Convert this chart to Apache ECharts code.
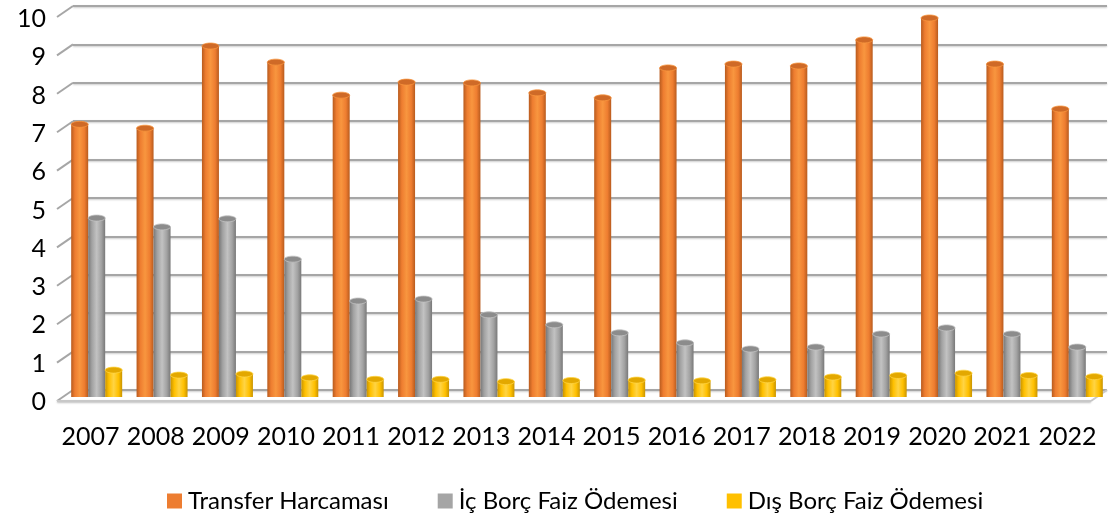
<!DOCTYPE html>
<html>
<head>
<meta charset="utf-8">
<script src="https://cdn.jsdelivr.net/npm/echarts@6/dist/echarts.min.js"></script>
<style>
html, body { margin: 0; padding: 0; background: #fff; }
#chart { width: 1113px; height: 513px; }
</style>
</head>
<body>
<div id="chart"></div>
<script>
// data
var years = ['2007', '2008', '2009', '2010', '2011', '2012', '2013', '2014', '2015', '2016', '2017', '2018', '2019', '2020', '2021', '2022'];
var transfer = [7.1, 7.0, 9.14, 8.72, 7.86, 8.2, 8.18, 7.92, 7.79, 8.57, 8.67, 8.62, 9.3, 9.87, 8.67, 7.5];
var icBorc = [4.66, 4.43, 4.64, 3.59, 2.5, 2.55, 2.14, 1.88, 1.67, 1.41, 1.25, 1.3, 1.64, 1.8, 1.64, 1.3];
var disBorc = [0.7, 0.57, 0.6, 0.5, 0.46, 0.46, 0.4, 0.43, 0.44, 0.42, 0.45, 0.52, 0.56, 0.62, 0.56, 0.53];
var yTicks = [0, 1, 2, 3, 4, 5, 6, 7, 8, 9, 10];
var seriesNames = ['Transfer Harcaması', 'İç Borç Faiz Ödemesi', 'Dış Borç Faiz Ödemesi'];

var chart = echarts.init(document.getElementById('chart'));

// cylinder-ish bar: gradient body + ellipse cap
function cylinder(slot, body, cap) {
  return function (params, api) {
    var cat = api.value(0);
    var v = api.value(1);
    var base = api.coord([cat, 0]);
    var top = api.coord([cat, v]);
    var band = api.size([1, 0])[0];
    var w = band * 0.26;
    var x = base[0] + (slot - 1) * w - w / 2;
    return {
      type: 'group',
      children: [
        {
          type: 'rect',
          shape: { x: x, y: top[1], width: w, height: base[1] - top[1] },
          style: {
            fill: new echarts.graphic.LinearGradient(0, 0, 1, 0, [
              { offset: 0, color: body[0] },
              { offset: 0.22, color: body[1] },
              { offset: 0.5, color: body[2] },
              { offset: 0.78, color: body[1] },
              { offset: 1, color: body[0] }
            ])
          }
        },
        {
          type: 'ellipse',
          shape: { cx: x + w / 2, cy: top[1], rx: w / 2, ry: 3 },
          style: { fill: cap, stroke: body[2], lineWidth: 0.8 }
        }
      ]
    };
  };
}

// little depth strokes from the back wall to the front labels
function depthLines(params, api) {
  var v = api.value(0);
  var p = api.coord([0, v]);
  var kids = [{
    type: 'line',
    shape: { x1: p[0], y1: p[1], x2: p[0] - 16, y2: p[1] + 11 },
    style: { stroke: '#a6a6a6', lineWidth: 2 }
  }];
  if (v === 0) {
    var r = api.coord([1, 0]);
    kids.push({
      type: 'line',
      shape: { x1: r[0], y1: r[1], x2: r[0] - 16, y2: r[1] + 11 },
      style: { stroke: '#c8c8c8', lineWidth: 2 }
    });
    kids.push({
      type: 'line',
      shape: { x1: p[0] - 16, y1: p[1] + 11, x2: r[0] - 16, y2: r[1] + 11 },
      style: { stroke: '#c8c8c8', lineWidth: 2, shadowColor: 'rgba(0,0,0,0.25)', shadowBlur: 2, shadowOffsetY: 1 }
    });
  }
  return { type: 'group', children: kids };
}

var font = 'Lato, "Open Sans", sans-serif';

chart.setOption({
  backgroundColor: '#fff',
  animation: false,
  grid: [
    { left: 73, right: 6, top: 6, bottom: 123 },     // back wall
    { left: 58, right: 13, top: 19, bottom: 111 },   // front labels
    { left: 64, right: 3, top: 13, bottom: 116 }     // bars
  ],
  xAxis: [
    { gridIndex: 0, type: 'value', min: 0, max: 1, show: false },
    {
      gridIndex: 1, type: 'category', data: years,
      axisLine: { show: false }, axisTick: { show: false },
      axisLabel: { color: '#000', fontSize: 25, fontFamily: font, margin: 22, interval: 0 }
    },
    { gridIndex: 2, type: 'category', data: years, show: false }
  ],
  yAxis: [
    {
      gridIndex: 0, type: 'value', min: 0, max: 10, interval: 1,
      axisLine: { show: false }, axisTick: { show: false }, axisLabel: { show: false },
      splitLine: { lineStyle: { color: '#a6a6a6', width: 2, shadowColor: 'rgba(0,0,0,0.2)', shadowBlur: 2, shadowOffsetY: 1 } }
    },
    {
      gridIndex: 1, type: 'value', min: 0, max: 10, interval: 1,
      axisLine: { show: false }, axisTick: { show: false }, splitLine: { show: false },
      axisLabel: { color: '#000', fontSize: 25, fontFamily: font, margin: 12 }
    },
    { gridIndex: 2, type: 'value', min: 0, max: 10, show: false }
  ],
  legend: {
    data: seriesNames,
    top: 484,
    left: 162,
    icon: 'rect',
    itemWidth: 15,
    itemHeight: 15,
    itemGap: 49,
    textStyle: { color: '#000', fontSize: 24, fontFamily: font, padding: [0, 0, 0, 1] }
  },
  series: [
    {
      type: 'custom', xAxisIndex: 0, yAxisIndex: 0, silent: true,
      data: yTicks.map(function (t) { return [t]; }),
      renderItem: depthLines
    },
    {
      name: seriesNames[0], type: 'custom', xAxisIndex: 2, yAxisIndex: 2,
      itemStyle: { color: '#ed7d31' },
      data: transfer.map(function (v, i) { return [i, v]; }),
      renderItem: cylinder(0, ['#b85b1e', '#ee7d30', '#f8963f'], '#cf6a27')
    },
    {
      name: seriesNames[1], type: 'custom', xAxisIndex: 2, yAxisIndex: 2,
      itemStyle: { color: '#a5a5a5' },
      data: icBorc.map(function (v, i) { return [i, v]; }),
      renderItem: cylinder(1, ['#787878', '#a2a2a2', '#c2c2c2'], '#8c8c8c')
    },
    {
      name: seriesNames[2], type: 'custom', xAxisIndex: 2, yAxisIndex: 2,
      itemStyle: { color: '#ffc000' },
      data: disBorc.map(function (v, i) { return [i, v]; }),
      renderItem: cylinder(2, ['#c99400', '#ffc000', '#ffd444'], '#e3a800')
    }
  ]
});
</script>
</body>
</html>
